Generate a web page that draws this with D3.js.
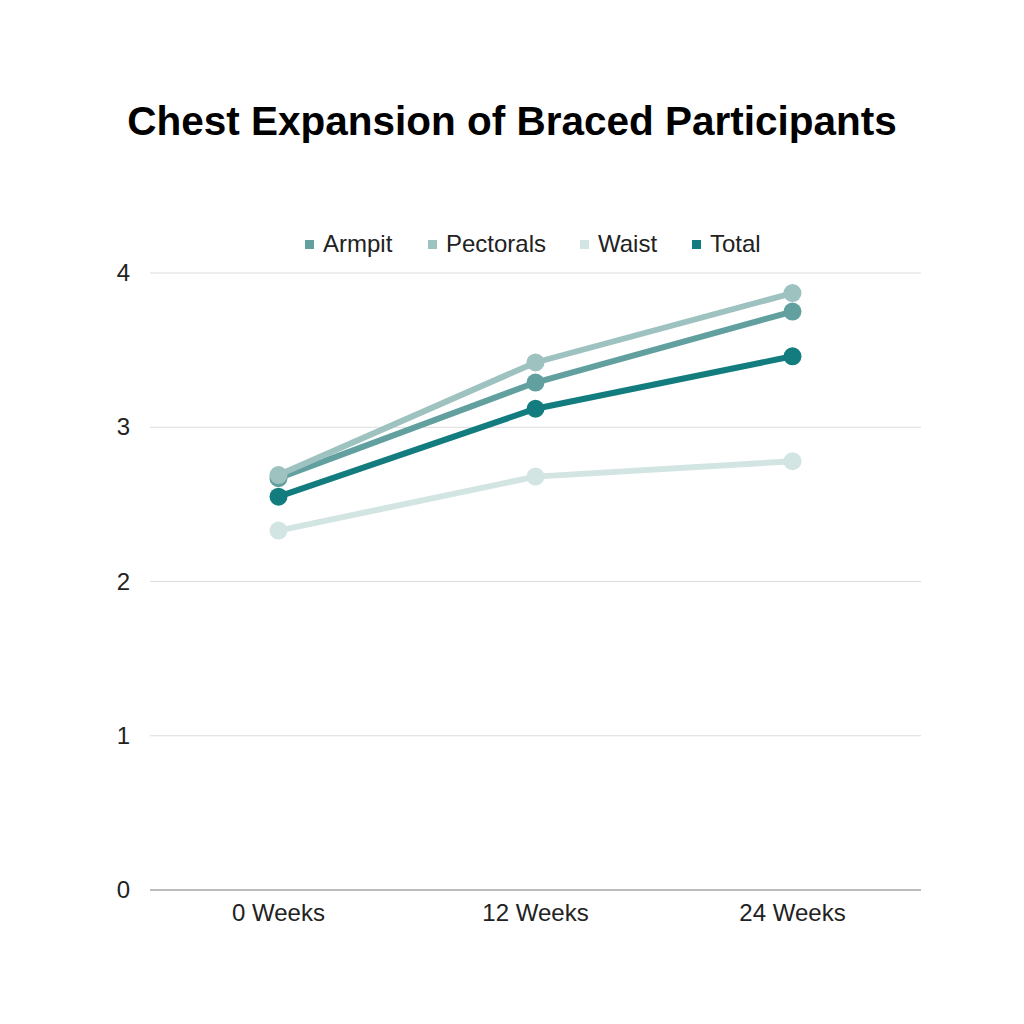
<!DOCTYPE html>
<html><head><meta charset="utf-8">
<script src="https://cdn.jsdelivr.net/npm/d3@7"></script>
<style>body{margin:0;background:#fff;} svg{display:block;font-family:"Liberation Sans",Arial,sans-serif;}</style>
</head><body>
<svg id="c" width="1024" height="1024"></svg>
<script>
const categories = ["0 Weeks", "12 Weeks", "24 Weeks"];
const seriesNames = ["Armpit", "Pectorals", "Waist", "Total"];
const armpit = [2.67, 3.29, 3.75];
const pectorals = [2.69, 3.42, 3.87];
const waist = [2.33, 2.68, 2.78];
const total = [2.55, 3.12, 3.46];
const yTicks = [0, 1, 2, 3, 4];
const colors = ["#62a0a0", "#9dc2c0", "#d3e5e3", "#127c7e"];
const series = [armpit, pectorals, waist, total];

const svg = d3.select("#c");
svg.append("rect").attr("width",1024).attr("height",1024).attr("fill","#fff");

const x = d3.scaleBand().domain(categories).range([150, 921]);
const y = d3.scaleLinear().domain([0, 4]).range([890, 273]);

svg.append("text").attr("x", 512).attr("y", 135).attr("text-anchor","middle")
  .attr("font-size", 40.5).attr("font-weight","bold").attr("fill","#000")
  .text("Chest Expansion of Braced Participants");

// grid
const g = svg.append("g");
g.selectAll("line.grid").data(yTicks).enter().append("line")
  .attr("x1", 150).attr("x2", 921).attr("y1", d=>y(d)).attr("y2", d=>y(d))
  .attr("stroke", d => d===0 ? "#bdbdbd" : "#dcdcdc").attr("stroke-width", d=> d===0?2:1);
g.selectAll("text.yt").data(yTicks).enter().append("text")
  .attr("x", 130).attr("y", d=>y(d)+8).attr("text-anchor","end")
  .attr("font-size", 24).attr("fill","#222").text(d=>d);
g.selectAll("text.xt").data(categories).enter().append("text")
  .attr("x", d=>x(d)+x.bandwidth()/2).attr("y", 921).attr("text-anchor","middle")
  .attr("font-size", 24).attr("fill","#222").text(d=>d);

const line = d3.line().x((d,i)=>x(categories[i])+x.bandwidth()/2).y(d=>y(d));
series.forEach((s, k) => {
  const sg = svg.append("g");
  sg.append("path").attr("d", line(s)).attr("fill","none").attr("stroke", colors[k]).attr("stroke-width", 6);
  sg.selectAll("circle").data(s).enter().append("circle")
    .attr("cx", (d,i)=>x(categories[i])+x.bandwidth()/2).attr("cy", d=>y(d)).attr("r", 9)
    .attr("fill", colors[k]);
});

// legend
const legendX = [305, 428, 580, 692];
const lg = svg.append("g");
seriesNames.forEach((n, k) => {
  lg.append("rect").attr("x", legendX[k]).attr("y", 240).attr("width", 9).attr("height", 9).attr("fill", colors[k]);
  lg.append("text").attr("x", legendX[k]+18).attr("y", 252).attr("font-size", 24).attr("fill","#222").text(n);
});
</script>
</body></html>
